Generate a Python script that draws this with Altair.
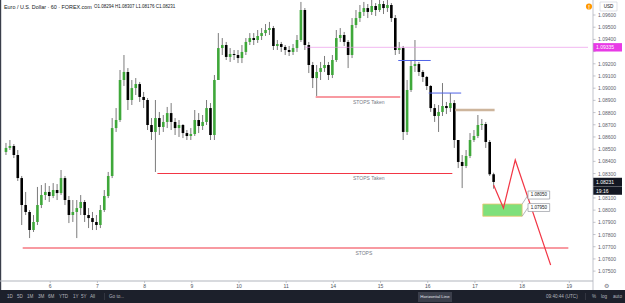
import altair as alt
import pandas as pd

FONT = "Liberation Sans"

# ---------------- data ----------------
day_hours = [24, 48, 72, 96, 120, 144, 168, 192, 216, 240, 264, 288]
day_labels = ["6", "7", "8", "9", "10", "11", "14", "15", "16", "17", "18", "19"]

price_ticks = [1.075, 1.076, 1.077, 1.078, 1.079, 1.080, 1.081, 1.082, 1.083, 1.084, 1.085,
               1.086, 1.087, 1.088, 1.089, 1.090, 1.091, 1.092, 1.093, 1.094, 1.095, 1.096]

first_open = 1.08477
closes = [1.08510, 1.08526, 1.08452, 1.08263, 1.08042, 1.07985, 1.07837, 1.07903, 1.08042, 1.08124,
          1.08149, 1.08116, 1.08165, 1.08140, 1.08263, 1.08083, 1.07960, 1.07985, 1.08017, 1.08067,
          1.07960, 1.07935, 1.07903, 1.07878, 1.08001, 1.08116, 1.08280, 1.08673, 1.08739, 1.09067,
          1.09133, 1.08903, 1.09001, 1.09034, 1.08928, 1.08903, 1.08698, 1.08641, 1.08755, 1.08682,
          1.08723, 1.08796, 1.08723, 1.08673, 1.08698, 1.08632, 1.08608, 1.08624, 1.08739, 1.08690,
          1.08723, 1.08837, 1.08616, 1.09067, 1.09329, 1.09354, 1.09256, 1.09280, 1.09272, 1.09247,
          1.09297, 1.09379, 1.09411, 1.09395, 1.09428, 1.09452, 1.09477, 1.09493, 1.09346, 1.09362,
          1.09338, 1.09313, 1.09297, 1.09329, 1.09395, 1.09641, 1.09354, 1.09190, 1.09083, 1.09133,
          1.09165, 1.09190, 1.09108, 1.09231, 1.09411, 1.09436, 1.09379, 1.09272, 1.09518, 1.09575,
          1.09625, 1.09657, 1.09625, 1.09674, 1.09641, 1.09690, 1.09657, 1.09682, 1.09575, 1.09313,
          1.09329, 1.08641, 1.08985, 1.09182, 1.09198, 1.09133, 1.09092, 1.09018, 1.08837, 1.08772,
          1.08805, 1.08854, 1.08837, 1.08878, 1.08575, 1.08395, 1.08362, 1.08444, 1.08575, 1.08608,
          1.08698, 1.08706, 1.08559, 1.08294, 1.08231]
highs = [1.08551, 1.08575, 1.08542, 1.08493, 1.08280, 1.08149, 1.08001, 1.07960, 1.08190, 1.08206,
         1.08222, 1.08198, 1.08222, 1.08214, 1.08329, 1.08280, 1.08116, 1.08083, 1.08083, 1.08124,
         1.08083, 1.08017, 1.07985, 1.07960, 1.08042, 1.08165, 1.08313, 1.08755, 1.08837, 1.09149,
         1.09272, 1.09165, 1.09067, 1.09083, 1.09051, 1.08969, 1.08919, 1.08755, 1.08903, 1.08805,
         1.08780, 1.08846, 1.08878, 1.08755, 1.08739, 1.08706, 1.08657, 1.08673, 1.08821, 1.08796,
         1.08780, 1.08903, 1.08878, 1.09108, 1.09452, 1.09411, 1.09379, 1.09329, 1.09313, 1.09313,
         1.09354, 1.09411, 1.09452, 1.09452, 1.09477, 1.09493, 1.09526, 1.09543, 1.09510, 1.09395,
         1.09379, 1.09354, 1.09346, 1.09362, 1.09436, 1.09707, 1.09657, 1.09379, 1.09215, 1.09190,
         1.09215, 1.09264, 1.09215, 1.09272, 1.09477, 1.09493, 1.09461, 1.09395, 1.09575, 1.09641,
         1.09682, 1.09707, 1.09690, 1.09723, 1.09698, 1.09739, 1.09715, 1.09748, 1.09698, 1.09600,
         1.09379, 1.09346, 1.09067, 1.09231, 1.09395, 1.09215, 1.09149, 1.09100, 1.09026, 1.08870,
         1.08862, 1.09042, 1.08887, 1.08960, 1.08903, 1.08575, 1.08452, 1.08493, 1.08632, 1.08657,
         1.08780, 1.08747, 1.08723, 1.08575, 1.08307]
lows = [1.08452, 1.08493, 1.08427, 1.08239, 1.07878, 1.07960, 1.07771, 1.07821, 1.07878, 1.08017,
        1.08083, 1.08067, 1.08099, 1.08083, 1.08124, 1.08042, 1.07894, 1.07903, 1.07771, 1.07960,
        1.07903, 1.07853, 1.07837, 1.07837, 1.07853, 1.07985, 1.08099, 1.08263, 1.08641, 1.08723,
        1.09018, 1.08821, 1.08862, 1.08944, 1.08887, 1.08837, 1.08657, 1.08575, 1.08313, 1.08616,
        1.08641, 1.08673, 1.08657, 1.08616, 1.08600, 1.08591, 1.08575, 1.08575, 1.08608, 1.08632,
        1.08657, 1.08698, 1.08575, 1.08575, 1.09067, 1.09272, 1.09231, 1.09215, 1.09231, 1.09206,
        1.09206, 1.09272, 1.09354, 1.09354, 1.09371, 1.09395, 1.09428, 1.09436, 1.09313, 1.09313,
        1.09297, 1.09272, 1.09264, 1.09272, 1.09297, 1.09379, 1.09313, 1.09124, 1.09001, 1.08936,
        1.09067, 1.09133, 1.09067, 1.09083, 1.09215, 1.09379, 1.09346, 1.09165, 1.09247, 1.09493,
        1.09543, 1.09592, 1.09575, 1.09600, 1.09592, 1.09625, 1.09608, 1.09625, 1.09543, 1.09272,
        1.09280, 1.08575, 1.08616, 1.08969, 1.09133, 1.09100, 1.09051, 1.08985, 1.08805, 1.08723,
        1.08641, 1.08772, 1.08788, 1.08805, 1.08510, 1.08345, 1.08181, 1.08345, 1.08427, 1.08559,
        1.08591, 1.08657, 1.08510, 1.08280, 1.08176]

# horizontal levels (hour index start/end, price)
red_start = [10, 78.5, 159]
red_end = [287.5, 228.5, 202]
red_price = [1.07690, 1.08300, 1.08928]
blue_start = [201, 216.5]
blue_end = [217.5, 233]
blue_price = [1.09227, 1.08960]
tan_start, tan_end, tan_price = [230], [250], [1.08821]
magenta_start, magenta_end, magenta_price = [153.5], [297.5], [1.09335]

ann_text = ["STOPS Taken", "STOPS Taken", "STOPS"]
ann_h = [186, 186, 183.5]
ann_price = [1.08887, 1.08263, 1.07648]

proj_h = [249.5, 254.5, 260.5, 278.5]
proj_price = [1.08206, 1.08017, 1.08411, 1.07550]

zone_h = [244, 264]
zone_price = [1.07950, 1.08050]

tgt_text = ["1.08050", "1.07950"]
tgt_h = [267, 278]
tgt_box_top = [1.08157, 1.08054]
tgt_box_bottom = [1.08091, 1.07989]
tgt_mid = [1.08124, 1.08021]
conn_from = [1.08050, 1.07950]

last_price = 1.08231
countdown = "19:16"
header_title = "Euro / U.S. Dollar · 60 · FOREX.com"
header_ohlc = "O1.08294 H1.08307 L1.08176 C1.08231"

# ---------------- scales ----------------
Y_LO, Y_HI = 1.07419, 1.09723
PLOT_W, PLOT_H = 593, 281
PX = (Y_HI - Y_LO) / PLOT_H
xs = alt.Scale(domain=[1, 297.5], nice=False, zero=False)
ys = alt.Scale(domain=[Y_LO, Y_HI], nice=False, zero=False)


def X(f):
    return alt.X(f, scale=xs, axis=None)


def Y(f):
    return alt.Y(f, scale=ys, axis=None)


opens = [first_open] + closes[:-1]
candles = pd.DataFrame({
    "h": [2 * i + 1.5 for i in range(len(closes))],
    "open": opens, "close": closes, "high": highs, "low": lows,
})
up = candles[candles["close"] >= candles["open"]]
down = candles[candles["close"] < candles["open"]]

wicks = alt.Chart(candles).mark_rule(color="#7b7b7b", strokeWidth=1).encode(
    x=X("h:Q"), y=Y("low:Q"), y2="high:Q")
bodies_up = alt.Chart(up).mark_bar(size=2.6, color="#3fa83a").encode(
    x=X("h:Q"), y=Y("open:Q"), y2="close:Q")
bodies_down = alt.Chart(down).mark_bar(size=2.6, color="#000000").encode(
    x=X("h:Q"), y=Y("open:Q"), y2="close:Q")


def hlines(start, end, price, color, width, opacity=1.0):
    df = pd.DataFrame({"s": start, "e": end, "p": price})
    return alt.Chart(df).mark_rule(color=color, strokeWidth=width, opacity=opacity).encode(
        x=X("s:Q"), x2="e:Q", y=Y("p:Q"))


red_lines = hlines(red_start, red_end, red_price, "#f23645", 1.1)
blue_lines = hlines(blue_start, blue_end, blue_price, "#4f63e6", 1)
tan_line = hlines(tan_start, tan_end, tan_price, "#cdb59c", 2.6)
magenta_line = hlines(magenta_start, magenta_end, magenta_price, "#ea8fe8", 0.8, 0.8)

ann = alt.Chart(pd.DataFrame({"t": ann_text, "h": ann_h, "p": ann_price})).mark_text(
    fontSize=5, font=FONT, color="#787b86", baseline="middle", align="center").encode(
    x=X("h:Q"), y=Y("p:Q"), text="t:N")

proj = alt.Chart(pd.DataFrame({"h": proj_h, "p": proj_price, "o": list(range(len(proj_h)))})).mark_line(
    color="#f23645", strokeWidth=1.2).encode(x=X("h:Q"), y=Y("p:Q"), order="o:Q")

zone = alt.Chart(pd.DataFrame({"h1": [zone_h[0]], "h2": [zone_h[1]],
                               "p1": [zone_price[0]], "p2": [zone_price[1]]})).mark_rect(
    fill="#7fe07b", stroke="#efc56f", strokeWidth=0.8).encode(
    x=X("h1:Q"), x2="h2:Q", y=Y("p1:Q"), y2="p2:Q")

tgt_df = pd.DataFrame({"t": tgt_text, "top": tgt_box_top, "bot": tgt_box_bottom, "mid": tgt_mid,
                       "from": conn_from,
                       "h1": [tgt_h[0]] * 2, "h2": [tgt_h[1]] * 2, "hz": [zone_h[1]] * 2,
                       "hc": [(tgt_h[0] + tgt_h[1]) / 2] * 2})
conn = alt.Chart(tgt_df).mark_rule(color="#9598a1", strokeWidth=0.7).encode(
    x=X("hz:Q"), x2="h1:Q", y=Y("from:Q"), y2="mid:Q")
tgt_box = alt.Chart(tgt_df).mark_rect(fill="white", stroke="#9598a1", strokeWidth=0.7).encode(
    x=X("h1:Q"), x2="h2:Q", y=Y("top:Q"), y2="bot:Q")
tgt_txt = alt.Chart(tgt_df).mark_text(fontSize=4.5, font=FONT, color="#131722", baseline="middle").encode(
    x=X("hc:Q"), y=Y("mid:Q"), text="t:N")

# ---------------- axes (drawn through the scales) ----------------
# like the trading platform, a tick label hidden behind a price badge is not drawn
badge_prices = [magenta_price[0], last_price, last_price - 8.6 * PX]
shown = [p for p in price_ticks if min(abs(p - b) for b in badge_prices) > 5 * PX]
ytick_df = pd.DataFrame({"p": price_ticks})
ylab_df = pd.DataFrame({"p": shown, "t": ["%.5f" % p for p in shown]})
y_ticks = alt.Chart(ytick_df).mark_rule(color="#b2b5be", strokeWidth=0.8).encode(
    x=alt.value(PLOT_W), x2=alt.value(PLOT_W + 2.5), y=Y("p:Q"))
y_labels = alt.Chart(ylab_df).mark_text(fontSize=5, font=FONT, color="#5d606b", align="left",
                                        baseline="middle").encode(
    x=alt.value(PLOT_W + 5), y=Y("p:Q"), text="t:N")
xtick_df = pd.DataFrame({"h": day_hours, "t": day_labels})
x_ticks = alt.Chart(xtick_df).mark_rule(color="#b2b5be", strokeWidth=0.8).encode(
    x=X("h:Q"), y=alt.value(PLOT_H), y2=alt.value(PLOT_H + 2))
x_labels = alt.Chart(xtick_df).mark_text(fontSize=5, font=FONT, color="#50535e",
                                         baseline="middle").encode(
    x=X("h:Q"), y=alt.value(PLOT_H + 4.8), text="t:N")

# price-axis badges
mag_df = pd.DataFrame({"t": ["%.5f" % magenta_price[0]], "c": magenta_price})
last_df = pd.DataFrame({"t": ["%.5f" % last_price, countdown],
                        "c": [last_price, last_price - 8.6 * PX]})
for d in (mag_df, last_df):
    d["top"] = d["c"] + 4.2 * PX
    d["bot"] = d["c"] - 4.2 * PX


def price_box(df, fill):
    rect = alt.Chart(df).mark_rect(fill=fill).encode(
        x=alt.value(PLOT_W), x2=alt.value(622), y=Y("top:Q"), y2="bot:Q")
    txt = alt.Chart(df).mark_text(fontSize=5, font=FONT, color="white", align="left",
                                  baseline="middle").encode(
        x=alt.value(PLOT_W + 3), y=Y("c:Q"), text="t:N")
    return [rect, txt]


# ---------------- chrome (pixel-placed UI) ----------------
def label(text, x, y, size, color, align="left", weight="normal"):
    return alt.Chart(pd.DataFrame({"t": [text]})).mark_text(
        align=align, baseline="middle", fontSize=size, color=color, font=FONT,
        fontWeight=weight).encode(text="t:N", x=alt.value(x), y=alt.value(y))


def box(x1, x2, y1, y2, fill, stroke=None, sw=0.7):
    kw = {"fill": fill}
    if stroke:
        kw["stroke"] = stroke
        kw["strokeWidth"] = sw
    return alt.Chart(pd.DataFrame({"a": [0]})).mark_rect(**kw).encode(
        x=alt.value(x1), x2=alt.value(x2), y=alt.value(y1), y2=alt.value(y2))


chrome = [
    label(header_title, 4, 7, 5.4, "#131722"),
    label(header_ohlc, 94, 7, 4.5, "#131722"),
    box(600, 617, 2, 11, "white", "#d1d4dc"),
    label("USD", 608.5, 6.6, 4.6, "#131722", "center"),
    alt.Chart(pd.DataFrame({"a": [0]})).mark_point(filled=True, size=38, color="#ff9800", opacity=1).encode(
        x=alt.value(589), y=alt.value(6.5)),
    label("!", 589, 6.8, 5, "white", "center", "bold"),
    box(0, 1.2, 0, 290, "#3a3e4a"),
    box(0, PLOT_W, PLOT_H - 0.4, PLOT_H + 0.4, "#b2b5be"),
    box(PLOT_W - 0.4, PLOT_W + 0.4, 0, 290, "#b2b5be"),
    label("⚙", 606, 285.5, 6, "#787b86", "center"),
    box(0, 625, 290, 303, "#1c202b"),
]
periods = ["1D", "5D", "1M", "3M", "6M", "YTD", "1Y", "5Y", "All"]
period_x = [7, 17, 27, 38, 48, 59, 73, 81, 90]
for t, xx in zip(periods, period_x):
    chrome.append(label(t, xx, 296.5, 4.6, "#b2b5be"))
chrome += [
    box(104, 104.6, 293, 300, "#434651"),
    label("Go to...", 109, 296.5, 4.6, "#b2b5be"),
    box(418, 452, 292, 302, "#3b3f4b"),
    label("Horizontal Line", 435, 297, 4.4, "#e0e3eb", "center"),
    label("09:40:44 (UTC)", 546, 296.5, 4.6, "#b2b5be"),
    box(585, 585.6, 293, 300, "#434651"),
    label("%", 592, 296.5, 4.6, "#b2b5be"),
    label("log", 601, 296.5, 4.6, "#b2b5be"),
    label("auto", 613, 296.5, 4.6, "#b2b5be"),
]

chart = alt.layer(
    wicks, bodies_up, bodies_down, red_lines, blue_lines, tan_line, magenta_line, ann, zone, proj,
    conn, tgt_box, tgt_txt, y_ticks, y_labels, x_ticks, x_labels,
    *price_box(mag_df, "#e83ae6"), *price_box(last_df, "#131722"), *chrome
).properties(
    width=PLOT_W, height=PLOT_H,
    padding={"left": 0, "top": 0, "right": 32, "bottom": 22},
    autosize="none", background="white",
).configure_view(stroke=None)

chart.save("out.html", embed_options={"renderer": "svg", "actions": False})
